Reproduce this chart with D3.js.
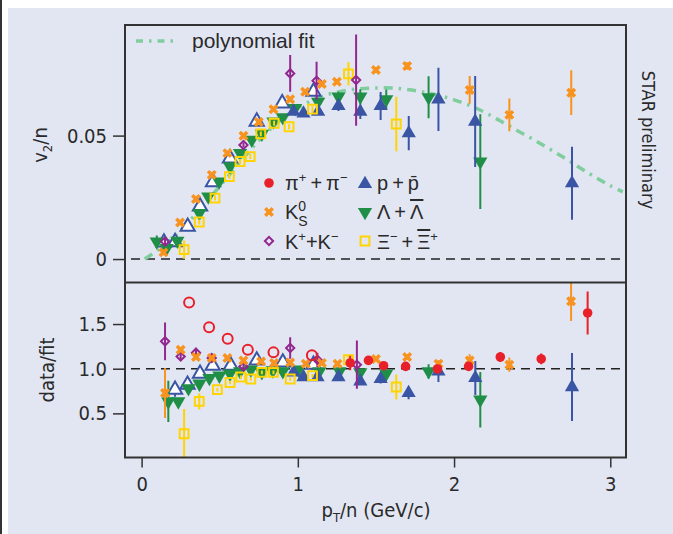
<!DOCTYPE html>
<html>
<head>
<meta charset="utf-8">
<script src="https://cdn.jsdelivr.net/npm/d3@7"></script>
<style>
  body { margin: 0; background: #fff; }
  svg { display: block; }
  text { font-family: "Liberation Sans Narrow", "DejaVu Sans Condensed", "Liberation Sans", Arial, sans-serif; font-stretch: condensed; fill: #2a2a2a; }
  .lg { font-family: "Liberation Sans", Arial, sans-serif; font-stretch: normal; }
</style>
</head>
<body>
<svg id="chart" width="673" height="534"></svg>
<script>
// ---- data: [pT/n, value, error] ----
var fitPt = [0.02, 0.1, 0.2, 0.3, 0.4, 0.5, 0.6, 0.7, 0.8, 0.9, 1.0, 1.1, 1.2, 1.3, 1.4, 1.5, 1.6, 1.7, 1.8, 1.9, 2.0, 2.1, 2.2, 2.3, 2.4, 2.5, 2.6, 2.7, 2.8, 2.9, 3.0, 3.08];
var fitV  = [0.0, 0.0035, 0.0085, 0.0150, 0.0220, 0.0295, 0.0370, 0.0445, 0.0512, 0.0568, 0.0612, 0.0645, 0.0668, 0.0682, 0.0690, 0.0693, 0.0693, 0.0687, 0.0677, 0.0663, 0.0645, 0.0622, 0.0593, 0.0558, 0.0522, 0.0487, 0.0450, 0.0412, 0.0372, 0.0333, 0.0297, 0.0272];

var kshortV2 = [[0.14,0.0027,0.0012],[0.246,0.0148,0.001],[0.348,0.0243,0.001],[0.449,0.0341,0.001],[0.549,0.0429,0.001],[0.652,0.0499,0.001],[0.75,0.0555,0.001],[0.844,0.0607,0.001],[0.951,0.0647,0.001],[1.047,0.0678,0.001],[1.154,0.0709,0.001],[1.25,0.0718,0.001],[1.50,0.0766,0.0012],[1.70,0.0782,0.0015],[2.10,0.0685,0.0056],[2.354,0.0584,0.0066],[2.75,0.0674,0.0091]];
var kchargedV2 = [[0.15,0.0071,0.001],[0.652,0.0462,0.001],[0.951,0.0752,0.0074],[1.12,0.0722,0.0077],[1.373,0.0725,0.0185]];
var protonV2 = [[0.972,0.0597,0.001],[1.036,0.059,0.001],[1.13,0.0597,0.0012],[1.26,0.062,0.002],[1.40,0.0597,0.003],[1.53,0.062,0.0057],[1.71,0.051,0.0069],[1.90,0.0647,0.0128],[2.135,0.0557,0.0184],[2.755,0.0307,0.0148]];
var protonLowV2 = [[0.143,0.0067,0.001],[0.214,0.0069,0.001],[0.295,0.0131,0.001],[0.374,0.0213,0.001],[0.457,0.0312,0.001],[0.566,0.0408,0.001],[0.737,0.0557,0.001],[0.90,0.0631,0.001],[1.10,0.0678,0.001]];
var lambdaV2 = [[0.097,0.0071,0.0024],[0.16,0.0044,0.001],[0.229,0.0074,0.001],[0.37,0.0186,0.001],[0.427,0.0253,0.001],[0.496,0.0314,0.001],[0.566,0.0375,0.001],[0.63,0.0429,0.001],[0.705,0.0483,0.001],[0.77,0.0507,0.001],[0.844,0.0557,0.001],[0.904,0.0574,0.001],[0.983,0.0611,0.001],[1.13,0.0637,0.0012],[1.26,0.0658,0.002],[1.40,0.0658,0.003],[1.566,0.0647,0.004],[1.837,0.0655,0.0085],[2.168,0.0395,0.0192]];
var xiV2 = [[0.272,0.0038,0.0037],[0.369,0.015,0.001],[0.47,0.0247,0.001],[0.562,0.0334,0.001],[0.63,0.0395,0.001],[0.695,0.0415,0.001],[0.763,0.0507,0.001],[0.848,0.055,0.001],[0.944,0.0536,0.001],[1.094,0.0607,0.0012],[1.324,0.075,0.0047],[1.63,0.0547,0.011]];

var pionRatio = [[1.335,1.064,0.08],[1.452,1.093,0.01],[1.549,1.034,0.01],[1.69,1.026,0.01],[1.894,0.997,0.015],[2.093,1.026,0.02],[2.296,1.131,0.055],[2.558,1.109,0.06],[2.855,1.624,0.24]];
var pionLowRatio = [[0.304,1.742,0],[0.432,1.463,0],[0.551,1.336,0],[0.68,1.213,0],[0.844,1.183,0],[1.09,1.15,0]];
var kshortRatio = [[0.15,0.728,0.28],[0.25,1.213,0.03],[0.348,1.131,0.02],[0.449,1.12,0.02],[0.549,1.12,0.02],[0.652,1.093,0.02],[0.765,1.082,0.02],[0.848,1.064,0.02],[0.951,1.07,0.02],[1.051,1.056,0.02],[1.154,1.064,0.02],[1.254,1.056,0.02],[1.50,1.108,0.02],[1.70,1.131,0.03],[1.90,1.056,0.04],[2.10,1.093,0.07],[2.354,1.045,0.08],[2.749,1.754,0.22]];
var kchargedRatio = [[0.15,1.306,0.21],[0.25,1.138,0.04],[0.348,1.18,0.03],[0.449,1.12,0.03],[0.652,1.026,0.03],[0.951,1.232,0.12],[1.125,1.10,0.08],[1.378,1.045,0.27]];
var protonRatio = [[0.972,0.959,0.01],[1.036,0.907,0.01],[1.126,0.907,0.02],[1.26,0.907,0.02],[1.40,0.858,0.03],[1.53,0.885,0.05],[1.709,0.728,0.07],[1.90,0.97,0.12],[2.136,0.896,0.19],[2.755,0.795,0.38]];
var protonLowRatio = [[0.214,0.765,0.08],[0.294,0.821,0.02],[0.374,0.944,0.02],[0.455,1.034,0.02],[0.571,1.034,0.02],[0.737,1.093,0.02],[0.904,1.07,0.02],[1.10,1.045,0.02]];
var lambdaRatio = [[0.171,0.634,0.23],[0.235,0.634,0.02],[0.30,0.78,0.02],[0.37,0.832,0.02],[0.434,0.896,0.02],[0.498,0.922,0.02],[0.566,0.944,0.02],[0.63,0.97,0.02],[0.699,0.989,0.02],[0.77,0.959,0.02],[0.84,0.981,0.02],[0.904,0.97,0.02],[1.004,0.989,0.02],[1.138,0.97,0.02],[1.267,0.97,0.02],[1.40,0.959,0.03],[1.566,0.944,0.04],[1.837,0.97,0.08],[2.168,0.653,0.31]];
var xiRatio = [[0.272,0.272,0.277],[0.369,0.634,0.09],[0.485,0.765,0.02],[0.566,0.846,0.02],[0.635,0.907,0.02],[0.699,0.885,0.02],[0.77,0.959,0.02],[0.844,0.959,0.02],[0.951,0.885,0.02],[1.094,0.922,0.02],[1.324,1.10,0.05],[1.63,0.795,0.14]];

var xTicks = [0, 1, 2, 3];
var topTicks = [0, 0.05];
var ratioTicks = [0.5, 1.0, 1.5];

// ---- colours ----
var red = '#e8202a', orange = '#f7931e', purple = '#92278f', blue = '#3a55a4',
    green = '#1f8e46', yellow = '#ffd400', fitColor = '#80cd9d';

var svg = d3.select('#chart');
var plot = {left: 125, right: 626, top: 25, mid: 282.5, bottom: 457.5};

var x = d3.scaleLinear().domain([-0.1063, 3.1006]).range([plot.left, plot.right]);
var yTop = d3.scaleLinear().domain([-0.0095, 0.0948]).range([plot.mid, plot.top]);
var yRat = d3.scaleLinear().domain([0.006, 1.965]).range([plot.bottom, plot.mid]);

// page background + frame edge
svg.append('rect').attr('x', 8).attr('y', 8).attr('width', 665).attr('height', 526).attr('fill', '#e2e6f2');
svg.append('rect').attr('x', 0).attr('y', 0).attr('width', 2).attr('height', 534).attr('fill', '#333');

var defs = svg.append('defs');
defs.append('clipPath').attr('id', 'clipTop').append('rect')
  .attr('x', plot.left).attr('y', plot.top).attr('width', plot.right - plot.left).attr('height', plot.mid - plot.top);
defs.append('clipPath').attr('id', 'clipRat').append('rect')
  .attr('x', plot.left).attr('y', plot.mid).attr('width', plot.right - plot.left).attr('height', plot.bottom - plot.mid);

// reference lines
svg.append('line').attr('x1', plot.left + 6).attr('x2', plot.right - 4)
  .attr('y1', yTop(0)).attr('y2', yTop(0))
  .attr('stroke', '#222').attr('stroke-width', 1.5).attr('stroke-dasharray', '9,6');
svg.append('line').attr('x1', plot.left + 6).attr('x2', plot.right - 4)
  .attr('y1', yRat(1)).attr('y2', yRat(1))
  .attr('stroke', '#222').attr('stroke-width', 1.5).attr('stroke-dasharray', '9,6');

// polynomial fit
var fitLine = d3.line().x(d => x(d[0])).y(d => yTop(d[1])).curve(d3.curveCatmullRom);
svg.append('path')
  .datum(fitPt.map((p, i) => [p, fitV[i]]))
  .attr('clip-path', 'url(#clipTop)')
  .attr('d', fitLine)
  .attr('fill', 'none').attr('stroke', fitColor).attr('stroke-width', 3.5)
  .attr('stroke-dasharray', '9,6,2.5,6');

// marker styles
var styles = {
  pion:     {type: d3.symbolCircle, size: 72, fill: red, stroke: 'none'},
  pionLow:  {type: d3.symbolCircle, size: 78, fill: 'none', stroke: red},
  kshort:   {type: d3.symbolCross, size: 62, rot: 45, fill: orange, stroke: 'none'},
  kcharged: {type: d3.symbolSquare, size: 34, rot: 45, fill: 'none', stroke: purple},
  proton:   {type: d3.symbolTriangle, size: 88, fill: blue, stroke: 'none'},
  protonLow:{type: d3.symbolTriangle, size: 88, fill: '#fff', stroke: blue},
  lambda:   {type: d3.symbolTriangle, size: 88, rot: 180, fill: green, stroke: 'none'},
  xi:       {type: d3.symbolSquare, size: 78, fill: 'none', stroke: yellow}
};

function drawSeries(g, data, yScale, st) {
  var col = st.fill !== 'none' && st.fill !== '#fff' ? st.fill : st.stroke;
  g.selectAll(null).data(data.filter(d => d[2] > 0)).join('line')
    .attr('x1', d => x(d[0])).attr('x2', d => x(d[0]))
    .attr('y1', d => yScale(d[1] - d[2])).attr('y2', d => yScale(d[1] + d[2]))
    .attr('stroke', col).attr('stroke-width', 2);
  g.selectAll(null).data(data).join('path')
    .attr('d', d3.symbol().type(st.type).size(st.size))
    .attr('transform', d => `translate(${x(d[0])},${yScale(d[1])}) rotate(${st.rot || 0})`)
    .attr('fill', st.fill).attr('stroke', st.stroke).attr('stroke-width', 2);
}

var gTop = svg.append('g').attr('clip-path', 'url(#clipTop)');
drawSeries(gTop, protonLowV2, yTop, styles.protonLow);
drawSeries(gTop, lambdaV2, yTop, styles.lambda);
drawSeries(gTop, protonV2, yTop, styles.proton);
drawSeries(gTop, xiV2, yTop, styles.xi);
drawSeries(gTop, kchargedV2, yTop, styles.kcharged);
drawSeries(gTop, kshortV2, yTop, styles.kshort);

var gRat = svg.append('g').attr('clip-path', 'url(#clipRat)');
drawSeries(gRat, protonLowRatio, yRat, styles.protonLow);
drawSeries(gRat, lambdaRatio, yRat, styles.lambda);
drawSeries(gRat, protonRatio, yRat, styles.proton);
drawSeries(gRat, xiRatio, yRat, styles.xi);
drawSeries(gRat, kchargedRatio, yRat, styles.kcharged);
drawSeries(gRat, kshortRatio, yRat, styles.kshort);
drawSeries(gRat, pionLowRatio, yRat, styles.pionLow);
drawSeries(gRat, pionRatio, yRat, styles.pion);

// frames
svg.append('rect').attr('x', plot.left).attr('y', plot.top)
  .attr('width', plot.right - plot.left).attr('height', plot.bottom - plot.top)
  .attr('fill', 'none').attr('stroke', '#333').attr('stroke-width', 2);
svg.append('line').attr('x1', plot.left).attr('x2', plot.right)
  .attr('y1', plot.mid).attr('y2', plot.mid).attr('stroke', '#333').attr('stroke-width', 2);

// axes
function styleAxis(g) {
  g.select('.domain').remove();
  g.selectAll('.tick line').attr('stroke', '#333').attr('stroke-width', 1.5);
  g.selectAll('.tick text').attr('font-size', 20).attr('fill', '#2a2a2a')
    .attr('font-family', null);
}
svg.append('g').attr('transform', `translate(${plot.left},0)`)
  .call(d3.axisLeft(yTop).tickValues(topTicks).tickSize(12).tickPadding(6).tickFormat(d => d === 0 ? '0' : d3.format('.2f')(d)))
  .call(styleAxis);
svg.append('g').attr('transform', `translate(${plot.left},0)`)
  .call(d3.axisLeft(yRat).tickValues(ratioTicks).tickSize(12).tickPadding(6).tickFormat(d3.format('.1f')))
  .call(styleAxis);
svg.append('g').attr('transform', `translate(0,${plot.bottom})`)
  .call(d3.axisBottom(x).tickValues(xTicks).tickSize(10).tickPadding(9).tickFormat(d3.format('d')))
  .call(styleAxis);

// axis titles
var vt = svg.append('text').attr('transform', 'translate(47,145) rotate(-90)')
  .attr('text-anchor', 'middle').attr('font-size', 20);
vt.append('tspan').text('v');
vt.append('tspan').attr('font-size', 13).attr('dy', 5).text('2');
vt.append('tspan').attr('dy', -5).text('/n');

svg.append('text').attr('transform', 'translate(54,370) rotate(-90)')
  .attr('text-anchor', 'middle').attr('font-size', 20).text('data/fit');

var xt = svg.append('text').attr('x', 376).attr('y', 517).attr('text-anchor', 'middle').attr('font-size', 20);
xt.append('tspan').text('p');
xt.append('tspan').attr('font-size', 13).attr('dy', 5).text('T');
xt.append('tspan').attr('dy', -5).text('/n (GeV/c)');

svg.append('text').attr('transform', 'translate(642,140) rotate(90)')
  .attr('text-anchor', 'middle').attr('font-size', 18).text('STAR preliminary');

// legend: fit
svg.append('line').attr('x1', 136).attr('x2', 177).attr('y1', 41).attr('y2', 41)
  .attr('stroke', fitColor).attr('stroke-width', 3.5).attr('stroke-dasharray', '7,6,2.5,6');
svg.append('text').attr('class', 'lg').attr('x', 192).attr('y', 48).attr('font-size', 21).text('polynomial fit');

// legend: species
var legendRows = [
  {st: styles.pion, x: 269, y: 183},
  {st: styles.kshort, x: 269, y: 212},
  {st: styles.kcharged, x: 269, y: 241},
  {st: styles.proton, x: 365, y: 184},
  {st: styles.lambda, x: 365, y: 212},
  {st: styles.xi, x: 365, y: 241}
];
svg.selectAll(null).data(legendRows).join('path')
  .attr('d', d => d3.symbol().type(d.st.type).size(d.st.size)())
  .attr('transform', d => `translate(${d.x},${d.y}) rotate(${d.st.rot || 0})`)
  .attr('fill', d => d.st.fill).attr('stroke', d => d.st.stroke).attr('stroke-width', 2);

// parts: [text, kind] with kind 'n' normal, 'u' superscript, 'b' overlined
function label(xp, yp, parts) {
  var t = svg.append('text').attr('class', 'lg').attr('x', xp).attr('y', yp).attr('font-size', 20);
  var shift = 0;
  parts.forEach(function(p) {
    var target = p[1] === 'u' ? -8 : 0;
    var s = t.append('tspan').attr('dy', target - shift).text(p[0]);
    shift = target;
    if (p[1] === 'u') s.attr('font-size', 13);
    if (p[1] === 'b') s.style('text-decoration', 'overline');
  });
  return t;
}
label(285, 190, [['\u03c0','n'],['+','u'],['\u2009+\u2009\u03c0','n'],['\u2212','u']]);
var t2 = svg.append('text').attr('class', 'lg').attr('x', 285).attr('y', 219).attr('font-size', 20);
t2.append('tspan').text('K');
t2.append('tspan').attr('font-size', 14).attr('dy', -8).text('0');
t2.append('tspan').attr('font-size', 14).attr('dx', -8).attr('dy', 15).text('S');
label(285, 249, [['K','n'],['+','u'],['+K','n'],['\u2212','u']]);
label(377, 190, [['p\u2009+\u2009p\u0304','n']]);
label(377, 219, [['\u039b\u2009+\u2009','n'],['\u039b','b']]);
label(377, 249, [['\u039e','n'],['\u2212','u'],['\u2009+\u2009','n'],['\u039e','b'],['+','u']]);
</script>
</body>
</html>
